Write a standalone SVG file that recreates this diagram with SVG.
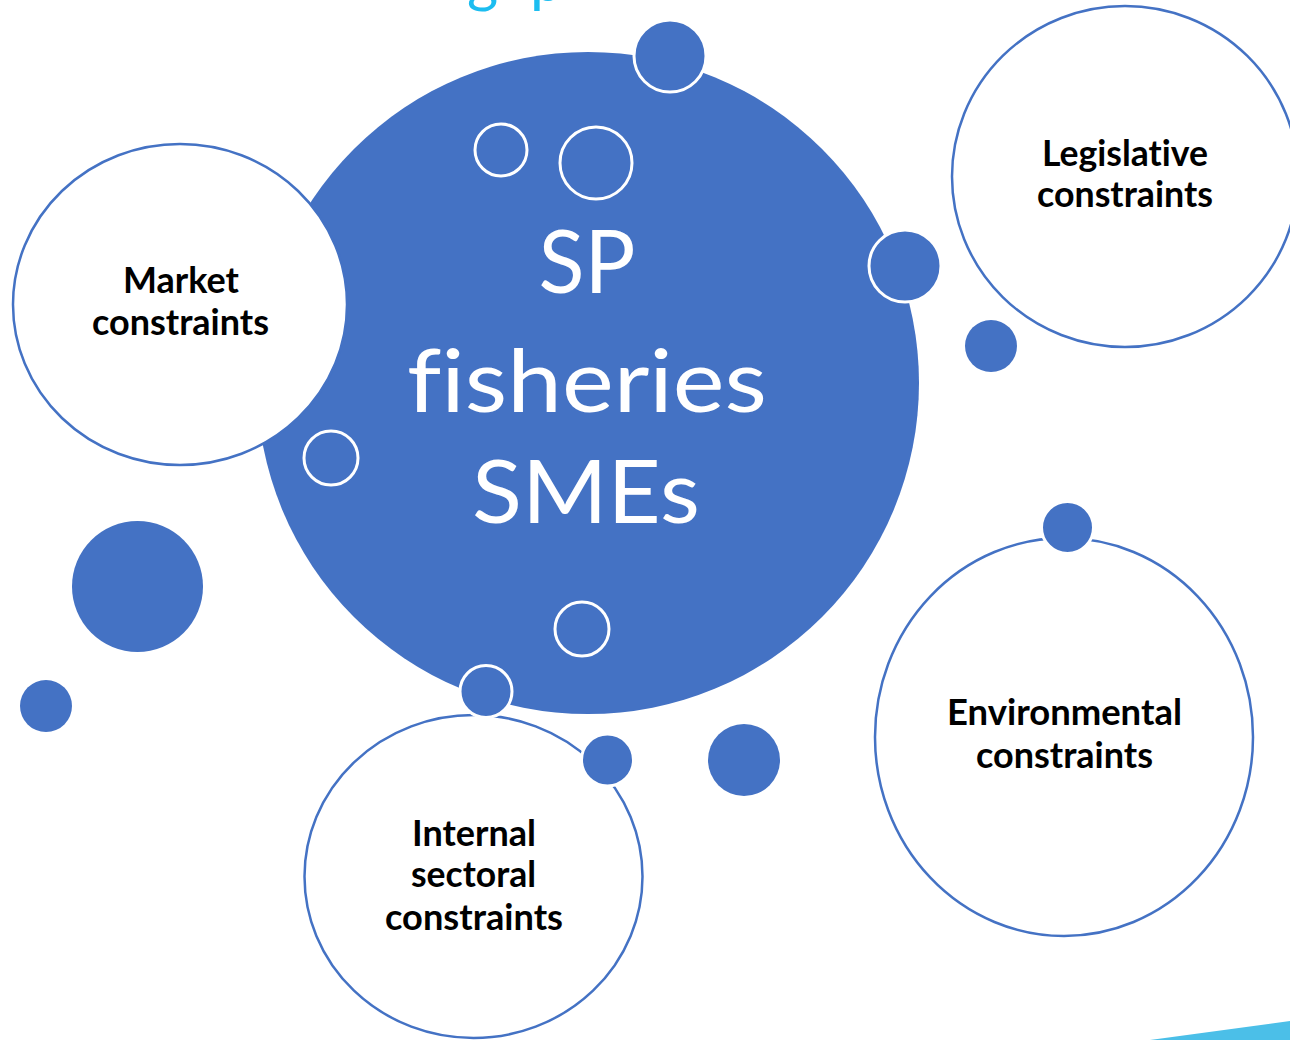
<svg xmlns="http://www.w3.org/2000/svg" width="1290" height="1040" viewBox="0 0 1290 1040">
<style>
.bg{fill:#FFFFFF}
.core{fill:#4472C4}
.lbl{fill:#FFFFFF;stroke:#4472C4;stroke-width:2.5}
.dot{fill:#4472C4;stroke:#FFFFFF;stroke-width:3}
.ring{fill:#4472C4;stroke:#FFFFFF;stroke-width:3}
.solid{fill:#4472C4}
text{font-variant-ligatures:none;font-feature-settings:"liga" 0,"clig" 0,"dlig" 0}
.t{font-family:Lato,"Open Sans","Liberation Sans",sans-serif;font-weight:700;font-size:37px;fill:#000000;text-anchor:middle}
.main{font-family:Lato,"Open Sans","Liberation Sans",sans-serif;font-weight:400;font-size:87px;fill:#FFFFFF;text-anchor:middle}
.title{font-family:Lato,"Open Sans","Liberation Sans",sans-serif;font-weight:400;font-size:60px;fill:#1CBDF0}
</style>
<rect class="bg" x="0" y="0" width="1290" height="1040"/>
<text class="title" x="467 500 530" y="1">g p</text>
<polygon points="1150,1040 1290,1021 1290,1040" fill="#4BBFE8"/>

<g id="center">
  <circle class="core" cx="588" cy="383" r="331"/>
  <text class="main" x="587" y="293" textLength="97" lengthAdjust="spacingAndGlyphs">SP</text>
  <text class="main" x="587" y="412" textLength="360" lengthAdjust="spacingAndGlyphs">fisheries</text>
  <text class="main" x="586" y="523" textLength="228" lengthAdjust="spacingAndGlyphs">SMEs</text>
</g>

<g id="connectors">
  <circle class="ring" cx="501" cy="150" r="26"/>
  <circle class="ring" cx="596" cy="163" r="36"/>
  <circle class="ring" cx="331" cy="458" r="27"/>
  <circle class="ring" cx="582" cy="629" r="27"/>
  <circle class="dot" cx="670" cy="56" r="36"/>
  <circle class="dot" cx="905" cy="266" r="36"/>
  <circle class="solid" cx="991" cy="346" r="26"/>
  <circle class="solid" cx="137.5" cy="586.5" r="65.5"/>
  <circle class="solid" cx="46" cy="706" r="26"/>
  <circle class="solid" cx="744" cy="760" r="36"/>
</g>

<g id="market">
  <ellipse class="lbl" cx="180" cy="304.5" rx="167" ry="160.5"/>
  <text class="t" x="181" y="293" textLength="116" lengthAdjust="spacingAndGlyphs">Market</text>
  <text class="t" x="180.5" y="335" textLength="177" lengthAdjust="spacingAndGlyphs">constraints</text>
</g>

<g id="legislative">
  <ellipse class="lbl" cx="1125" cy="176.5" rx="173" ry="170.5"/>
  <text class="t" x="1125" y="166" textLength="166" lengthAdjust="spacingAndGlyphs">Legislative</text>
  <text class="t" x="1125" y="207" textLength="176" lengthAdjust="spacingAndGlyphs">constraints</text>
</g>

<g id="environmental">
  <ellipse class="lbl" cx="1064" cy="737" rx="189" ry="199"/>
  <text class="t" x="1064.5" y="725" textLength="235" lengthAdjust="spacingAndGlyphs">Environmental</text>
  <text class="t" x="1064.5" y="768" textLength="177" lengthAdjust="spacingAndGlyphs">constraints</text>
</g>

<g id="internal">
  <ellipse class="lbl" cx="473.5" cy="876.5" rx="169" ry="161.5"/>
  <text class="t" x="474" y="846" textLength="124" lengthAdjust="spacingAndGlyphs">Internal</text>
  <text class="t" x="473.5" y="887" textLength="125" lengthAdjust="spacingAndGlyphs">sectoral</text>
  <text class="t" x="474" y="930" textLength="178" lengthAdjust="spacingAndGlyphs">constraints</text>
</g>

<g id="bubbles-front">
  <circle class="dot" cx="486" cy="691.5" r="26"/>
  <circle class="dot" cx="607.5" cy="760" r="26"/>
  <circle class="dot" cx="1067.5" cy="527.5" r="26"/>
</g>
</svg>
